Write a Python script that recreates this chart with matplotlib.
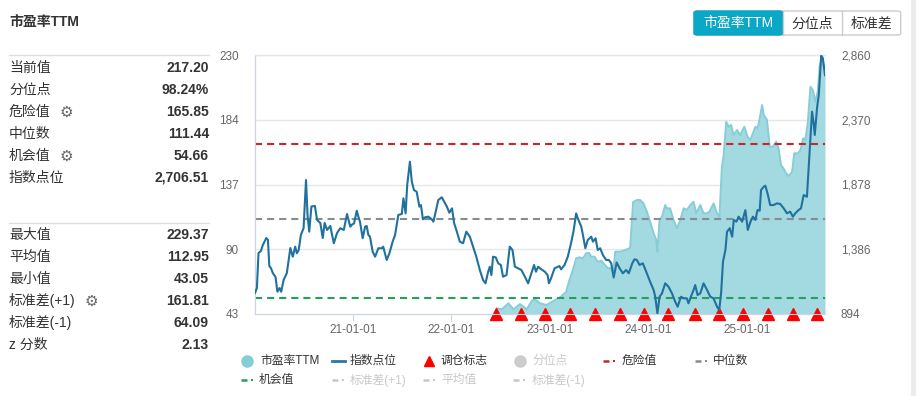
import matplotlib
matplotlib.use('Agg')
import matplotlib.pyplot as plt
from matplotlib.patches import FancyBboxPatch, Rectangle
from matplotlib.lines import Line2D
import numpy as np
import pandas as pd

plt.rcParams['font.family'] = ['Liberation Sans', 'Noto Sans CJK SC', 'DejaVu Sans']

# ---------------- data ----------------
BASE_DATE = '2020-01-01'   # day numbers below are calendar days since this date

index_day = [4, 11, 17, 26, 33, 46, 52, 57, 63, 70, 80, 87, 95, 101, 110, 122, 135, 144, 153, 159,
             166, 174, 184, 193, 199, 205, 213, 226, 234, 246, 255, 262, 271, 283, 296, 308, 320, 333,
             345, 357, 362, 371, 381, 387, 393, 403, 412, 418, 424, 430, 440, 449, 461, 474, 479, 492,
             502, 514, 523, 535, 548, 554, 562, 568, 578, 585, 593, 603, 613, 619, 626, 634, 646, 659,
             665, 675, 683, 696, 705, 715, 724, 734, 742, 750, 763, 775, 787, 800, 812, 824, 837, 849,
             858, 868, 874, 880, 886, 896, 905, 915, 923, 936, 948, 958, 967, 979, 991, 1004, 1016,
             1028, 1038, 1045, 1053, 1065, 1078, 1088, 1093, 1101, 1114, 1132, 1138, 1151, 1163, 1175,
             1184, 1194, 1200, 1213, 1219, 1228, 1237, 1250, 1256, 1266, 1274, 1283, 1293, 1305, 1315,
             1324, 1333, 1344, 1355, 1367, 1379, 1389, 1402, 1410, 1419, 1429, 1441, 1451, 1468, 1481,
             1487, 1495, 1503, 1512, 1524, 1536, 1549, 1561, 1570, 1582, 1592, 1604, 1610, 1619, 1629,
             1635, 1644, 1654, 1666, 1679, 1691, 1703, 1716, 1724, 1731, 1738, 1747, 1753, 1763, 1772,
             1778, 1788, 1796, 1809, 1821, 1830, 1840, 1849, 1858, 1866, 1874, 1879, 1889, 1895, 1903,
             1913, 1926, 1938, 1950, 1963, 1975, 1987, 1997, 2006, 2018, 2027, 2037, 2049, 2055, 2062,
             2068, 2074, 2078, 2087, 2093, 2102, 2108, 2116]
index_value = [1053, 1091, 1357, 1372, 1418, 1471, 1456, 1258, 1243, 1205, 1175, 1063, 1091, 1063, 1152,
               1205, 1395, 1329, 1405, 1355, 1380, 1494, 1545, 1911, 1633, 1519, 1710, 1714, 1608, 1585,
               1471, 1585, 1532, 1562, 1431, 1509, 1545, 1532, 1653, 1557, 1570, 1582, 1678, 1633, 1595,
               1469, 1557, 1562, 1494, 1481, 1367, 1329, 1393, 1393, 1405, 1304, 1355, 1443, 1494, 1646,
               1653, 1772, 1658, 1873, 2050, 1898, 1835, 1822, 1709, 1721, 1613, 1628, 1633, 1613, 1595,
               1683, 1759, 1780, 1746, 1709, 1663, 1696, 1582, 1532, 1443, 1431, 1519, 1481, 1405, 1329,
               1228, 1152, 1127, 1215, 1253, 1190, 1329, 1324, 1279, 1266, 1177, 1190, 1405, 1380, 1253,
               1241, 1228, 1177, 1127, 1203, 1266, 1215, 1253, 1233, 1215, 1190, 1127, 1165, 1241, 1258,
               1233, 1266, 1329, 1431, 1519, 1658, 1620, 1557, 1494, 1393, 1456, 1481, 1443, 1469, 1380,
               1393, 1342, 1304, 1304, 1279, 1171, 1285, 1241, 1203, 1228, 1203, 1279, 1309, 1304, 1266,
               1279, 1228, 1139, 1076, 1025, 899, 1025, 1051, 1127, 1101, 1051, 987, 949, 1025, 1013,
               1013, 975, 1025, 1076, 1114, 1038, 1051, 1127, 1076, 1025, 1013, 949, 924, 1051, 1291,
               1380, 1519, 1545, 1481, 1608, 1595, 1633, 1595, 1683, 1532, 1595, 1633, 1608, 1683, 1678,
               1835, 1860, 1868, 1810, 1721, 1721, 1734, 1729, 1696, 1658, 1671, 1633, 1658, 1683, 1696,
               1797, 1784, 1987, 2215, 2430, 2342, 2253, 2468, 2556, 2855, 2835, 2706.51]

pe_day = [900, 918, 943, 962, 986, 1011, 1030, 1042, 1060, 1085, 1116, 1138, 1157, 1169, 1182, 1194,
          1206, 1219, 1231, 1241, 1250, 1262, 1274, 1287, 1299, 1312, 1322, 1331, 1339, 1357, 1376,
          1394, 1405, 1419, 1431, 1443, 1456, 1468, 1481, 1491, 1495, 1503, 1512, 1524, 1530, 1542,
          1555, 1567, 1580, 1592, 1604, 1617, 1629, 1639, 1654, 1666, 1679, 1688, 1703, 1716, 1725,
          1734, 1740, 1750, 1759, 1768, 1777, 1790, 1802, 1817, 1829, 1839, 1849, 1858, 1866, 1874,
          1883, 1889, 1901, 1911, 1923, 1935, 1944, 1953, 1962, 1972, 1981, 1994, 2002, 2015, 2025,
          2035, 2043, 2052, 2062, 2071, 2080, 2089, 2096, 2105, 2116]
pe_value = [47.1, 46.4, 50.7, 46.4, 50.2, 46.4, 52.6, 53.6, 50.7, 49.5, 53.1, 55.5, 59.1, 67.5, 74.8, 83.2,
            83.9, 83.2, 86.8, 87.3, 84.4, 84.4, 80.5, 81.6, 78.7, 76.0, 76.2, 72.6, 88.0, 88.0, 89.2,
            90.7, 123.9, 125.3, 125.3, 123.0, 116.9, 109.6, 101.3, 96.4, 88.0, 110.9, 113.3, 121.7, 119.3,
            119.3, 110.9, 104.9, 110.9, 119.3, 118.1, 121.7, 124.1, 115.7, 121.7, 115.7, 115.7, 116.9,
            122.9, 115.7, 113.3, 149.4, 156.6, 181.8, 178.2, 179.5, 172.2, 175.8, 172.2, 178.2, 171.0,
            168.6, 173.5, 178.2, 177.1, 184.3, 193.9, 186.7, 183.1, 163.8, 163.8, 167.4, 162.6, 150.6,
            148.2, 144.6, 142.6, 145.7, 159.0, 159.0, 161.4, 169.9, 168.6, 180.7, 207.1, 204.7, 196.3,
            203.5, 221.6, 229.37, 217.2]

rebalance_dates = ['2022-06-15', '2022-09-16', '2022-12-15', '2023-03-16', '2023-06-18', '2023-09-17',
                   '2023-12-17', '2024-03-14', '2024-06-23', '2024-09-20', '2024-12-19', '2025-03-21',
                   '2025-06-20', '2025-09-17']

danger_value = 165.85
median_value = 111.44
chance_value = 54.66

pe_tick_labels = ['43', '90', '137', '184', '230']
index_tick_labels = ['894', '1,386', '1,878', '2,370', '2,860']
x_tick_dates = ['2021-01-01', '2022-01-01', '2023-01-01', '2024-01-01', '2025-01-01']
x_tick_labels = ['21-01-01', '22-01-01', '23-01-01', '24-01-01', '25-01-01']

stats_top_labels = ['当前值', '分位点', '危险值', '中位数', '机会值', '指数点位']
stats_top_values = ['217.20', '98.24%', '165.85', '111.44', '54.66', '2,706.51']
stats_top_gear = [False, False, True, False, True, False]
stats_bottom_labels = ['最大值', '平均值', '最小值', '标准差(+1)', '标准差(-1)', 'z 分数']
stats_bottom_values = ['229.37', '112.95', '43.05', '161.81', '64.09', '2.13']
stats_bottom_gear = [False, False, False, True, False, False]

buttons = ['市盈率TTM', '分位点', '标准差']

# ---------------- figure ----------------
W, H = 916, 396
fig = plt.figure(figsize=(W / 100, H / 100), dpi=100)
fig.patch.set_facecolor('white')


def F(x, y):
    return x / W, 1 - y / H


base = pd.Timestamp(BASE_DATE)
idx_dates = base + pd.to_timedelta(index_day, unit='D')
pe_dates = base + pd.to_timedelta(pe_day, unit='D')
reb_dates = pd.to_datetime(rebalance_dates)

x0, y0 = F(255, 314)
x1, y1 = F(825, 55)
ax = fig.add_axes([x0, y0, x1 - x0, y1 - y0])
ax2 = ax.twinx()

pe_min, pe_max = 43, 230
ix_min, ix_max = 894, 2860
ax.set_ylim(pe_min, pe_max)
ax2.set_ylim(ix_min, ix_max)
ax.set_xlim(idx_dates[0], idx_dates[-1])

# grid
pe_ticks = np.linspace(pe_min, pe_max, 5)
ax.set_yticks(pe_ticks)
ax.set_yticklabels(pe_tick_labels)
ax2.set_yticks(np.linspace(ix_min, ix_max, 5))
ax2.set_yticklabels(index_tick_labels)
for t in pe_ticks[1:]:
    ax.axhline(t, color='#e6e6e6', lw=1.0, zorder=0)

# PE area
area_fill = '#a3d9e1'
area_edge = '#86cdd8'
ax.fill_between(pe_dates, pe_value, pe_min, color=area_fill, lw=0, zorder=2)
ax.plot(pe_dates, pe_value, color=area_edge, lw=1.4, zorder=2.1)

# reference lines
dash = (0, (3.4, 2.4))
ax.axhline(danger_value, color='#c62828', lw=1.5, ls=dash, zorder=3)
ax.axhline(median_value, color='#878c93', lw=1.5, ls=dash, zorder=3)
ax.axhline(chance_value, color='#23a05c', lw=1.5, ls=dash, zorder=3)

# rebalance markers
ax.plot(reb_dates, [pe_min] * len(reb_dates), linestyle='none', marker='^', ms=8.5,
        color='#ff0000', clip_on=False, zorder=6)

# index line
ax2.plot(idx_dates, index_value, color='#21719e', lw=1.5, zorder=4)

# axes styling
for a in (ax, ax2):
    a.spines['right'].set_visible(False)
    a.spines['top'].set_color('#e6e6e6')
    a.spines['left'].set_color('#ccd6eb')
    a.spines['bottom'].set_color('#ccd6eb')
ax.set_xticks(pd.to_datetime(x_tick_dates))
ax.set_xticklabels(x_tick_labels)
ax.tick_params(axis='x', length=5, color='#ccd6eb', labelcolor='#666666', labelsize=8.5, pad=2)
ax.tick_params(axis='y', length=0, labelcolor='#666666', labelsize=8.5, pad=11.5)
ax2.tick_params(axis='y', length=0, labelcolor='#666666', labelsize=8.5, pad=11.5)
ax.set_facecolor('none')

# ---------------- left panel ----------------
fig.text(*F(9, 22), '市盈率TTM', fontsize=10, fontweight='bold', color='#333333', va='center', ha='left')


def sep(y):
    fig.add_artist(Line2D([9 / W, 209 / W], [1 - y / H] * 2, color='#dddddd', lw=1,
                          transform=fig.transFigure))


def rows(labels, values, gears, ytop, gear_x):
    for i, (lab, val, g) in enumerate(zip(labels, values, gears)):
        y = ytop + 22 * i
        fig.text(*F(9, y), lab, fontsize=10, color='#333333', va='center', ha='left')
        fig.text(*F(209, y), val, fontsize=10, fontweight='bold', color='#333333', va='center', ha='right')
        if g:
            fig.text(*F(gear_x, y), '⚙', fontsize=11, color='#666666', va='center', ha='center',
                     family='DejaVu Sans')


sep(55)
rows(stats_top_labels, stats_top_values, stats_top_gear, 68, 66)
sep(223)
rows(stats_bottom_labels, stats_bottom_values, stats_bottom_gear, 235, 91)

# ---------------- buttons ----------------
bx = [694, 782.7, 841.7, 900.7]
by0, by1 = 11, 35
outer = FancyBboxPatch(F(bx[0], by1), (bx[3] - bx[0]) / W, (by1 - by0) / H,
                       boxstyle='round,pad=0,rounding_size=0.004', transform=fig.transFigure,
                       facecolor='white', edgecolor='#cccccc', lw=1)
fig.add_artist(outer)
active = FancyBboxPatch(F(bx[0], by1), (bx[1] - bx[0]) / W, (by1 - by0) / H,
                        boxstyle='round,pad=0,rounding_size=0.004', transform=fig.transFigure,
                        facecolor='#0aa8c6', edgecolor='#0aa8c6', lw=1)
fig.add_artist(active)
for xs in bx[1:3]:
    fig.add_artist(Line2D([xs / W] * 2, [1 - by0 / H, 1 - by1 / H], color='#cccccc', lw=1,
                          transform=fig.transFigure))
for i, b in enumerate(buttons):
    cx = (bx[i] + bx[i + 1]) / 2
    fig.text(*F(cx, 23.5), b, fontsize=10, color='white' if i == 0 else '#333333',
             ha='center', va='center')

# right scroll strip
fig.add_artist(Rectangle(F(911, H), 5 / W, 1, transform=fig.transFigure, color='#ececec', lw=0))

# ---------------- legend ----------------
on_c = '#333333'
off_c = '#c8c8c8'


def leg_text(x, y, s, c):
    fig.text(*F(x, y), s, fontsize=8.5, color=c, va='center', ha='left')


def leg_marker(x, y, m, c, ms):
    fig.add_artist(Line2D([x / W], [1 - y / H], marker=m, color=c, ms=ms, linestyle='none',
                          transform=fig.transFigure))


def leg_dash(x, y, c):
    fig.add_artist(Line2D([x / W, (x + 6) / W], [1 - y / H] * 2, color=c, lw=1.8,
                          solid_capstyle='butt', transform=fig.transFigure))
    fig.add_artist(Line2D([(x + 11) / W], [1 - y / H], marker='s', ms=1.5, color=c, mew=0,
                          linestyle='none', transform=fig.transFigure))


r1, r2 = 361, 380
leg_marker(247, r1, 'o', area_edge, 8)
leg_text(260, r1, '市盈率TTM', on_c)
fig.add_artist(Line2D([332 / W, 345 / W], [1 - r1 / H] * 2, color='#2a77a5', lw=2,
                      transform=fig.transFigure))
leg_text(350, r1, '指数点位', on_c)
leg_marker(429, r1, '^', '#ff0000', 7)
leg_text(441, r1, '调仓标志', on_c)
leg_marker(520, r1, 'o', '#cccccc', 8)
leg_text(532, r1, '分位点', off_c)
leg_dash(603, r1, '#c62828')
leg_text(622, r1, '危险值', on_c)
leg_dash(695, r1, '#878c93')
leg_text(713, r1, '中位数', on_c)

leg_dash(241, r2, '#23a05c')
leg_text(259, r2, '机会值', on_c)
leg_dash(332, r2, off_c)
leg_text(350, r2, '标准差(+1)', off_c)
leg_dash(423, r2, off_c)
leg_text(441, r2, '平均值', off_c)
leg_dash(513, r2, off_c)
leg_text(532, r2, '标准差(-1)', off_c)

fig.savefig('out.png', dpi=100, facecolor='white')
